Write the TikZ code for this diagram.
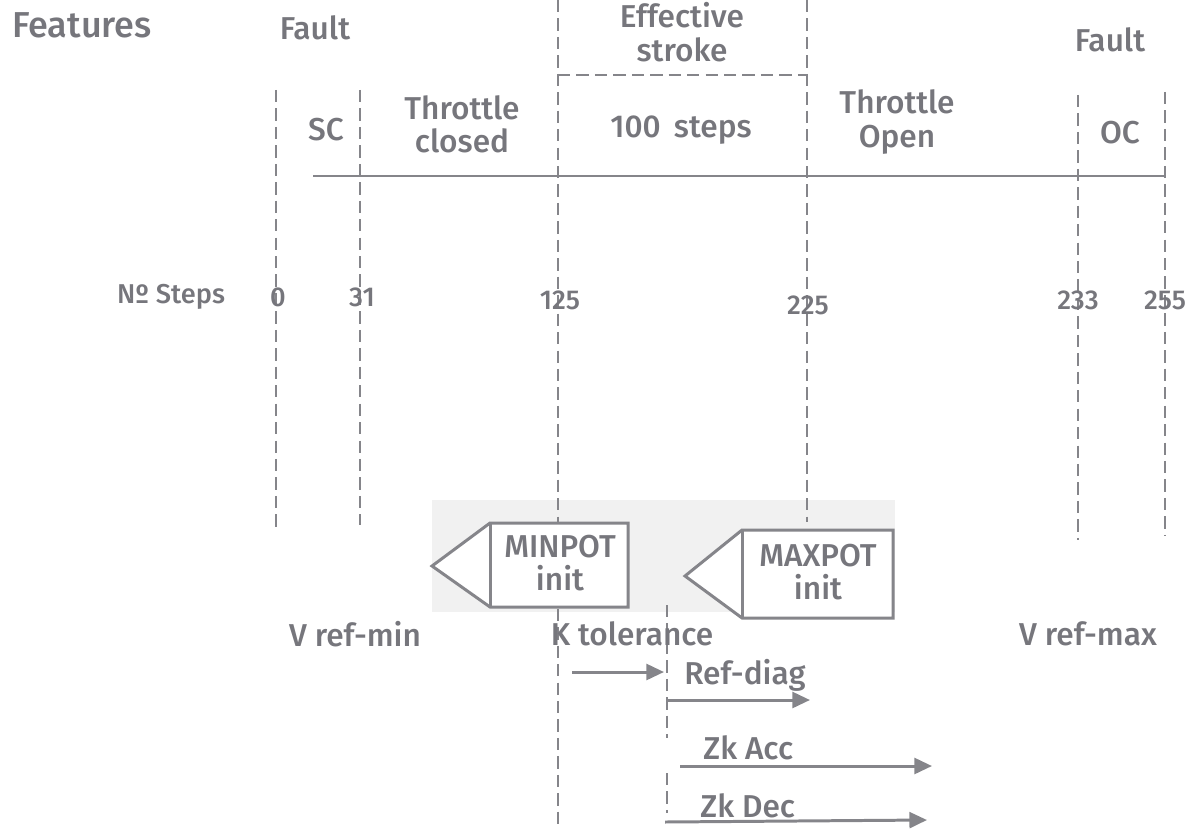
\documentclass[tikz,border=0pt]{standalone}
\usepackage{fontspec}
\setmainfont{Fira Sans}[UprightFont={* Medium}]
\usepackage{tikz}
\usetikzlibrary{positioning, arrows.meta, calc}
\definecolor{InkGry} {HTML}{76767c}
\definecolor{LineGry}{HTML}{85858a}
\definecolor{ShadeGry}{HTML}{f1f1f1}
\tikzset{
  lbl/.style={font=\fontsize{18}{19}\selectfont, text=InkGry, align=center, inner sep=0pt},
  tick/.style={font=\fontsize{15.5}{17}\selectfont, text=InkGry, inner sep=0pt},
  dashline/.style={LineGry, line width=1.5pt, dash pattern=on 7pt off 3.5pt},
  potbox/.style={draw=LineGry, line width=1.7pt, fill=white, line join=miter},
  tolarrow/.style={LineGry, line width=1.7pt, -{Triangle[length=10pt, width=9pt]}}
}
\begin{document}
\begin{tikzpicture}[x=0.02cm, y=-0.02cm]
      \useasboundingbox (0,0) rectangle (1192,828);
      % ── shaded strip behind the pot boxes ───────────────────────────────────
      \fill[ShadeGry] (432,500) rectangle (895,612);

      % ── vertical dashed lines ───────────────────────────────────────────────
      \foreach \x/\ya/\yb in {276/90/530, 360/90/525, 558/0/828, 807/0/522,
                              1078/95/540, 1165/92/535} {
        \draw[dashline] (\x,\ya) -- (\x,\yb);
      }
      \draw[dashline] (667,605) -- (667,738);
      \draw[dashline] (667,773) -- (667,813);
      % effective stroke bracket
      \draw[dashline] (558,75) -- (807,75);

      % ── main step scale ─────────────────────────────────────────────────────
      \draw[LineGry, line width=1.7pt] (313,176) -- (1165,176);

      % ── header texts ────────────────────────────────────────────────────────
      \node[lbl, font=\fontsize{20.5}{21}\selectfont] (feat) at (82,25) {Features};
      \node[lbl] (faultL) at (315,28) {Fault};
      \node[lbl] (effstr) at (682,32) {Effective\\stroke};
      \node[lbl] (faultR) at (1110,40) {Fault};

      % ── zone texts ──────────────────────────────────────────────────────────
      \node[lbl] (sc)    at (326,130) {SC};
      \node[lbl] (thrcl) at (462,124) {Throttle\\closed};
      \node[lbl] (steps) at (681,130) {100\, steps};
      \node[lbl] (throp) at (897,122) {Throttle\\Open};
      \node[lbl] (oc)    at (1120,133) {OC};

      % ── step numbers ────────────────────────────────────────────────────────
      \node[tick] (nsteps) at (171,297) {Nº Steps};
      \foreach \x/\y/\n/\name in {278/297/0/s0, 362/297/31/s31, 560/300/125/s125,
                                  808/305/225/s225, 1078/300/233/s233, 1165/300/255/s255} {
        \node[tick] (\name) at (\x,\y) {\n};
      }

      % ── pot init boxes ──────────────────────────────────────────────────────
      \draw[potbox] (432,566) -- (490,523) -- (628,523) -- (628,607) -- (490,607) -- cycle;
      \draw[LineGry, line width=1.7pt] (490,523) -- (490,607);
      \node[lbl] (minpot) at (560,563) {MINPOT\\init};
      \draw[potbox] (685,576) -- (742,530) -- (893,530) -- (893,618) -- (742,618) -- cycle;
      \draw[LineGry, line width=1.7pt] (742,530) -- (742,618);
      \node[lbl] (maxpot) at (818,572) {MAXPOT\\init};

      % ── reference texts ─────────────────────────────────────────────────────
      \node[lbl] (vrefmin) at (355,634) {V ref-min};
      \node[lbl] (ktol)    at (632,634) {K tolerance};
      \node[lbl] (vrefmax) at (1088,634) {V ref-max};

      % ── tolerance arrows ────────────────────────────────────────────────────
      \coordinate (kA) at (572,672);  \coordinate (kB) at (664,672);
      \draw[tolarrow] (kA) -- (kB);
      \coordinate (rdA) at (667,700); \coordinate (rdB) at (810,700);
      \draw[tolarrow] (rdA) -- (rdB);
      \node[lbl, anchor=south west] (refdiag) at (684,692) {Ref-diag};
      \coordinate (zaA) at (680,766); \coordinate (zaB) at (932,766);
      \draw[tolarrow] (zaA) -- (zaB);
      \node[lbl, anchor=south west] (zkacc) at (703,760) {Zk Acc};
      \coordinate (zdA) at (665,822); \coordinate (zdB) at (927,820);
      \draw[tolarrow] (zdA) -- (zdB);
      \node[lbl, anchor=south west] (zkdec) at (700,818) {Zk Dec};
    \end{tikzpicture}
\end{document}
